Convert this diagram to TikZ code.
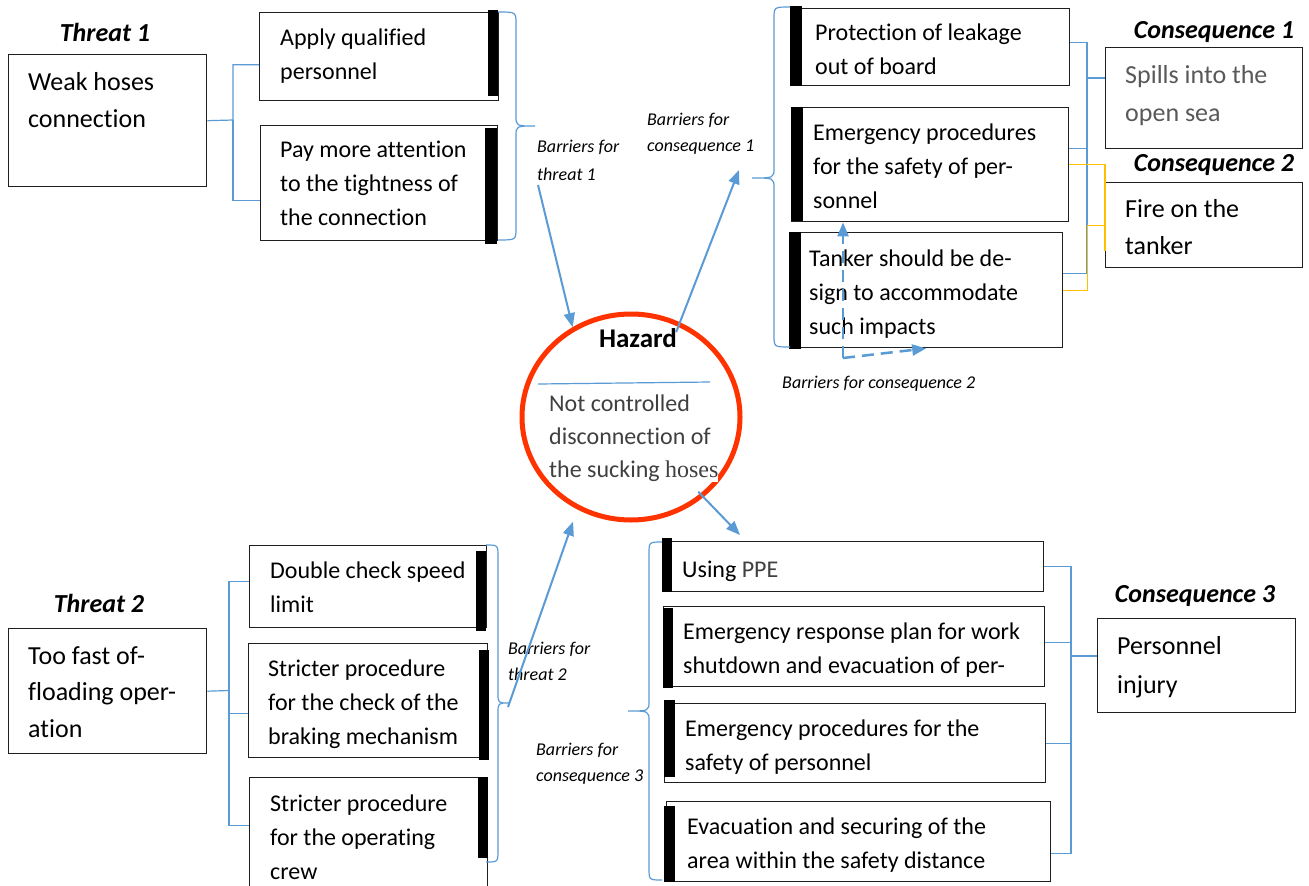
\documentclass[tikz,border=0pt]{standalone}
\usepackage{fontspec}
\setmainfont{Carlito}[Ligatures=NoCommon]
\newfontfamily\tnr{Liberation Serif}
\usetikzlibrary{arrows.meta,shapes.geometric,calc}
\definecolor{conblue}{HTML}{5B9BD5}
\definecolor{hazred}{HTML}{FF3300}
\definecolor{yelc}{HTML}{FFC000}
\definecolor{boxline}{HTML}{1F1F1F}
\definecolor{dgray}{HTML}{404040}
\definecolor{mgray}{HTML}{595959}
\newcommand\fl{\rule{0pt}{0.8em}}
\newcommand\mybrace[6]{%
  \draw[brc] (#1,#4) .. controls (#2,#4) .. (#2,#4+12) -- (#2,#5-10)
    .. controls (#2,#5) .. (#3,#5) .. controls (#2,#5) .. (#2,#5+10)
    -- (#2,#6-12) .. controls (#2,#6) .. (#1,#6);}
\begin{document}
\begin{tikzpicture}[x=1pt,y=-1pt,
  box/.style={draw=boxline, line width=1.4pt, rectangle, inner sep=0pt, anchor=north west},
  bt/.style={inner sep=0pt, anchor=north west, align=left, font=\fontsize{24}{34}\selectfont},
  btbig/.style={inner sep=0pt, anchor=north west, align=left, font=\fontsize{26}{37}\selectfont},
  lab/.style={inner sep=0pt, anchor=base, font=\fontsize{26}{30}\selectfont\bfseries\itshape},
  itl/.style={inner sep=0pt, anchor=north west, align=left, font=\fontsize{18}{26}\selectfont\itshape},
  conn/.style={draw=conblue, line width=1.2pt},
  ycon/.style={draw=yelc, line width=1.2pt},
  brc/.style={draw=conblue, line width=1.2pt},
  arr/.style={draw=conblue, line width=2pt, -{Triangle[length=14pt,width=11pt]}},
  dsh/.style={draw=conblue, line width=2.5pt, dash pattern=on 12pt off 7pt, -{Triangle[length=14pt,width=11pt]}},
  bar/.style={fill=black}
]
\useasboundingbox (0,0) rectangle (1309,886);
\fill[white] (0,0) rectangle (1309,886);
\clip (0,0) rectangle (1309,886);

% ---------- boxes ----------
\node[box, minimum width=198, minimum height=132] (weak) at (8,54) {};
\node[box, minimum width=239, minimum height=88] (apply) at (259,12) {};
\node[box, minimum width=237, minimum height=115] (pay) at (260,125) {};
\node[box, minimum width=279, minimum height=77] (prot) at (790,8) {};
\node[box, minimum width=277, minimum height=114] (emerg1) at (791,107) {};
\node[box, minimum width=273, minimum height=115] (tanker) at (789,232) {};
\node[box, minimum width=197, minimum height=101] (spills) at (1105,47) {};
\node[box, minimum width=197, minimum height=85] (fire) at (1105,182) {};
\node[box, minimum width=198, minimum height=125] (toofast) at (8,628) {};
\node[box, minimum width=237, minimum height=82] (double) at (249,545) {};
\node[box, minimum width=239, minimum height=114] (braking) at (248,643) {};
\node[box, minimum width=238, minimum height=130] (operating) at (249,777) {};
\node[box, minimum width=381, minimum height=50] (ppe) at (662,541) {};
\node[box, minimum width=381, minimum height=80] (erp) at (663,606) {};
\node[box, minimum width=381, minimum height=79] (emerg3) at (664,703) {};
\node[box, minimum width=384, minimum height=80] (evac) at (666,801) {};
\node[box, minimum width=198, minimum height=94] (injury) at (1097,618) {};

% ---------- black bars ----------
\fill[bar] (488,10) rectangle (498,96);
\fill[bar] (485,128) rectangle (497,244);
\fill[bar] (790,6) rectangle (802,86);
\fill[bar] (791,107) rectangle (803,221);
\fill[bar] (789,232) rectangle (801,349);
\fill[bar] (476,551) rectangle (486,631);
\fill[bar] (479,650) rectangle (489,760);
\fill[bar] (478,777) rectangle (488,858);
\fill[bar] (662,538) rectangle (672,592);
\fill[bar] (663,608) rectangle (673,688);
\fill[bar] (664,700) rectangle (675,777);
\fill[bar] (664,806) rectangle (675,882);

% ---------- box texts ----------
\node[btbig] (weakt) at (28,69) {\fl Weak hoses\\connection};
\node[bt] (applyt) at (280,26) {\fl Apply qualified\\personnel};
\node[bt] (payt) at (280,138) {\fl Pay more attention\\to the tightness of\\the connection};
\node[bt] (prott) at (815,21) {\fl Protection of leakage\\out of board};
\node[bt] (emerg1t) at (813,121) {\fl Emergency procedures\\for the safety of per-\\sonnel};
\node[bt] (tankert) at (809,247) {\fl Tanker should be de-\\sign to accommodate\\such impacts};
\node[btbig, text=mgray, font=\fontsize{26}{38}\selectfont] (spillst) at (1125,62) {\fl Spills into the\\open sea};
\node[btbig] (firet) at (1125,196) {\fl Fire on the\\tanker};
\node[btbig, font=\fontsize{26}{36.5}\selectfont] (toofastt) at (28,643) {\fl Too fast of-\\floading oper-\\ation};
\node[bt] (doublet) at (270,559) {\fl Double check speed\\limit};
\node[bt] (brakingt) at (268,657) {\fl Stricter procedure\\for the check of the\\braking mechanism};
\node[bt] (operatingt) at (270,792) {\fl Stricter procedure\\for the operating\\crew};
\node[bt] (ppet) at (682,558) {\fl Using \textcolor{dgray}{PPE}};
\node[bt] (erpt) at (683,620) {\fl Emergency response plan for work\\shutdown and evacuation of per-};
\node[bt] (emerg3t) at (685,717) {\fl Emergency procedures for the\\safety of personnel};
\node[bt] (evact) at (687,815) {\fl Evacuation and securing of the\\area within the safety distance};
\node[btbig, font=\fontsize{26}{39}\selectfont] (injuryt) at (1117,633) {\fl Personnel\\injury};

% ---------- headings ----------
\node[lab] (th1) at (105,41) {Threat 1};
\node[lab] (th2) at (99,612) {Threat 2};
\node[lab] (co1) at (1214,38) {Consequence 1};
\node[lab] (co2) at (1214,171) {Consequence 2};
\node[lab] (co3) at (1195,602) {Consequence 3};

% ---------- italic labels ----------
\node[itl, font=\fontsize{18}{28}\selectfont\itshape] (bt1) at (537,138) {\fl Barriers for\\threat 1};
\node[itl] (bc1) at (647,111) {\fl Barriers for\\consequence 1};
\node[itl] (bc2) at (782,374) {\fl Barriers for consequence 2};
\node[itl] (bt2) at (508,640) {\fl Barriers for\\threat 2};
\node[itl] (bc3) at (536,741) {\fl Barriers for\\consequence 3};

% ---------- braces ----------
\mybrace{498}{516}{535}{12}{126}{240}
\mybrace{790}{774}{752}{7}{178}{347}
\mybrace{486}{498}{509}{545}{703}{862}
\mybrace{662}{649}{628}{542}{711}{880}

% ---------- connectors ----------
\coordinate (j0) at (233,120);
\draw[conn] (weak.east) -- (j0) |- ([yshift=-8]apply.west);
\draw[conn] (j0) |- ([yshift=-17.5]pay.west);

\coordinate (j1) at (1087,78);
\draw[conn] ([yshift=5]prot.east) -| (j1);
\draw[conn] ([yshift=16]emerg1.east) -| (j1);
\draw[conn] ([yshift=16.5]tanker.east) -| (j1);
\draw[conn] (j1) -- (j1 -| spills.west);
\draw[ycon] (emerg1.east) -| ([yshift=17]fire.south west);
\draw[ycon] (tanker.east) -- ++(24,0) |- (fire.west);

\coordinate (j3) at (229,690.5);
\draw[conn] (toofast.east) -- (j3);
\draw[conn] (j3) |- ([yshift=5]double.west);
\draw[conn] (j3) |- ([yshift=-13]braking.west);
\draw[conn] (j3) |- ([yshift=17]operating.west);

\coordinate (j4) at (1071,656);
\draw[conn] (ppe.east) -| (j4);
\draw[conn] ([yshift=4]erp.east) -| (j4);
\draw[conn] (emerg3.east) -| (j4);
\draw[conn] ([yshift=-12]evac.east) -| (j4);
\draw[conn, line width=2pt] (j4) -- (j4 -| injury.west);

% ---------- hazard ----------
\node[draw=hazred, line width=5pt, ellipse, minimum width=218, minimum height=206, inner sep=0pt] (hazard) at (631,417) {};
\node[inner sep=0pt, anchor=base, font=\fontsize{27}{30}\selectfont\bfseries] (haztitle) at (638,347) {Hazard};
\draw[conn] ($(hazard.center)+(-93,-33)$) -- ($(hazard.center)+(79,-35)$);
\node[bt, fill=white, text=dgray, font=\fontsize{24}{33}\selectfont] (hazdesc) at (549,392) {\fl Not controlled\\disconnection of\\the sucking {\tnr hoses}};

% ---------- arrows ----------
\coordinate (a1s) at (538,185);
\draw[arr] (a1s) -- (hazard.123.5);
\coordinate (a2e) at (739,170);
\draw[arr] ($(hazard.center)!0.9!(hazard.62.6)$) -- (a2e);
\coordinate (a3e) at (740,535);
\draw[arr] ($(hazard.center)!0.93!(hazard.-48.7)$) -- (a3e);
\coordinate (a4s) at (508,707);
\draw[arr] (a4s) -- ($(hazard.center)!1.12!(hazard.241.5)$);

\coordinate (d0) at (843,358);
\draw[dsh] (d0) -- (d0 |- emerg1.south);
\draw[dsh] (d0) -- (tanker.south);
\end{tikzpicture}
\end{document}
